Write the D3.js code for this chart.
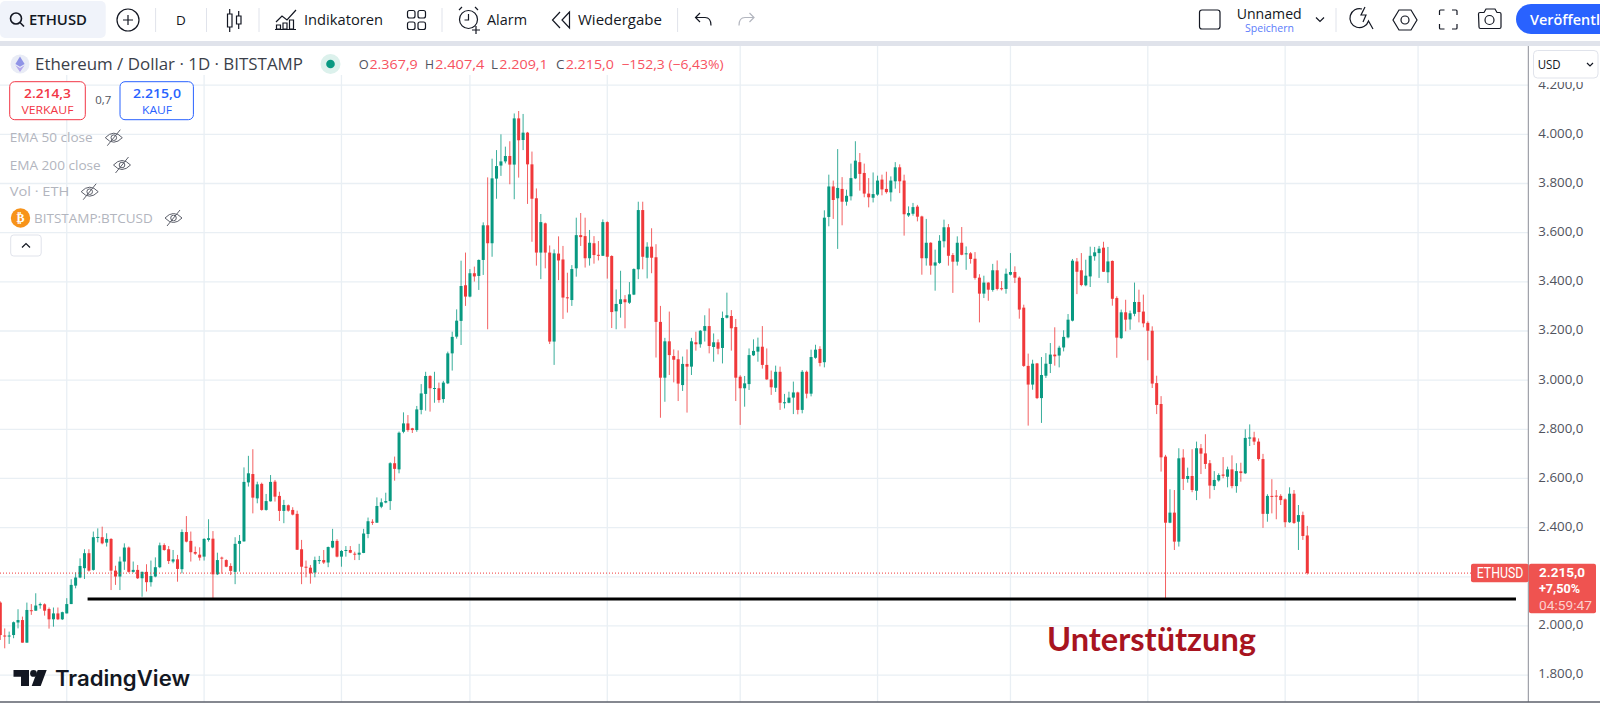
<!DOCTYPE html>
<html lang="de">
<head>
<meta charset="UTF-8">
<title>ETHUSD</title>
<style>
  body { margin: 0; background: #fff; overflow: hidden; }
  svg { display: block; font-family: "Open Sans", sans-serif; }
  .icon { fill: none; stroke: #131722; stroke-width: 1.2; }
</style>
</head>
<body>
<div id="chart"></div>
<script src="https://d3js.org/d3.v7.min.js"></script>
<script>
// values, one entry per daily candle
const opens = [
  2095,1961,1959,1963,2014,2024,1932,2064,2062,2084,
  2088,2069,2027,2051,2027,2051,2089,2164,2197,2235,
  2296,2228,2360,2361,2339,2354,2225,2201,2262,2319,
  2220,2228,2194,2220,2178,2201,2239,2329,2312,2262,
  2271,2231,2382,2346,2301,2290,2282,2350,2355,2210,
  2278,2268,2244,2220,2334,2344,2584,2618,2519,2578,
  2472,2507,2587,2529,2468,2491,2472,2456,2312,2241,
  2237,2217,2266,2268,2258,2319,2346,2282,2305,2309,
  2294,2290,2297,2374,2424,2420,2485,2502,2508,2662,
  2637,2790,2824,2804,2797,2879,2944,3017,2966,2967,
  2923,2987,3109,3177,3241,3386,3340,3435,3424,3489,
  3630,3557,3820,3873,3890,3912,3877,4065,3977,4007,
  3878,3740,3519,3638,3519,3157,3515,3491,3337,3326,
  3455,3590,3586,3496,3557,3510,3506,3643,3505,3280,
  3310,3329,3315,3348,3451,3692,3498,3543,3500,3237,
  3010,3158,3098,3085,2980,3066,3055,3154,3146,3201,
  3220,3135,3154,3131,3254,3261,3216,3014,2967,2984,
  3101,3116,3136,3062,3003,2969,3034,2908,2908,2929,
  2950,2879,3034,2945,3091,3127,3073,3664,3788,3740,
  3778,3726,3748,3821,3887,3843,3759,3742,3755,3816,
  3778,3764,3809,3866,3812,3670,3677,3706,3666,3496,
  3559,3466,3477,3565,3622,3509,3482,3559,3512,3516,
  3494,3417,3352,3397,3367,3447,3374,3371,3429,3440,
  3417,3295,3058,2982,3068,2927,3018,3066,3104,3100,
  3133,3174,3242,3483,3447,3386,3422,3504,3517,3539,
  3439,3485,3334,3171,3276,3247,3270,3318,3279,3233,
  3201,2988,2903,2689,2420,2461,2343,2685,2598,2610,
  2550,2723,2702,2662,2569,2592,2616,2607,2637,2569,
  2629,2621,2762,2767,2750,2679,2456,2529,2530,2529,
  2515,2422,2538,2424,2451,2368
];
const highs = [
  2100,1990,1977,2018,2068,2038,2095,2089,2133,2095,
  2092,2075,2075,2075,2058,2113,2190,2218,2275,2312,
  2312,2384,2397,2404,2377,2357,2245,2282,2336,2323,
  2262,2248,2221,2251,2266,2279,2339,2336,2325,2309,
  2289,2393,2447,2384,2323,2320,2357,2434,2386,2298,
  2282,2271,2255,2361,2370,2645,2692,2719,2587,2583,
  2537,2614,2594,2546,2513,2494,2483,2469,2350,2266,
  2248,2282,2285,2309,2323,2395,2353,2309,2325,2325,
  2302,2334,2395,2441,2434,2523,2519,2542,2666,2689,
  2791,2869,2858,2806,2895,2984,3034,3020,3034,2990,
  2997,3116,3197,3288,3486,3519,3452,3462,3491,3642,
  3825,3901,3936,4000,3950,3972,4085,4095,4083,4010,
  3930,3780,3676,3641,3548,3532,3585,3546,3437,3468,
  3661,3680,3661,3611,3586,3566,3654,3646,3508,3369,
  3445,3346,3399,3455,3726,3726,3561,3618,3553,3302,
  3172,3279,3125,3121,3096,3125,3172,3197,3204,3264,
  3292,3190,3166,3279,3356,3285,3249,3020,3017,3129,
  3166,3173,3220,3129,3039,3059,3055,2944,2953,2994,
  2953,3041,3039,3124,3144,3138,3691,3836,3812,3940,
  3826,3775,3881,3972,3924,3881,3822,3845,3832,3836,
  3848,3829,3887,3878,3836,3707,3721,3713,3669,3656,
  3561,3531,3590,3653,3635,3517,3585,3623,3544,3521,
  3521,3431,3425,3398,3473,3487,3403,3454,3517,3463,
  3422,3307,3108,3083,3070,3094,3110,3151,3215,3140,
  3203,3269,3493,3497,3517,3490,3543,3542,3546,3563,
  3542,3487,3341,3287,3327,3283,3397,3368,3348,3239,
  3219,3018,2935,2696,2556,2553,2723,2719,2644,2719,
  2750,2740,2780,2675,2630,2621,2687,2648,2694,2662,
  2664,2800,2820,2790,2763,2700,2536,2597,2553,2536,
  2519,2564,2553,2492,2465,2407
];
const lows = [
  1943,1909,1927,1950,1990,1932,1932,2045,2062,2070,
  2042,1989,1997,2024,2024,2051,2089,2153,2194,2191,
  2221,2225,2340,2332,2323,2146,2167,2146,2228,2217,
  2217,2191,2119,2140,2160,2198,2235,2306,2252,2255,
  2180,2214,2340,2262,2289,2266,2266,2343,2106,2207,
  2212,2239,2207,2170,2221,2343,2567,2458,2499,2469,
  2469,2506,2506,2427,2418,2465,2450,2309,2170,2198,
  2172,2198,2252,2252,2239,2316,2279,2241,2282,2296,
  2268,2268,2296,2357,2411,2420,2479,2499,2472,2591,
  2621,2784,2790,2785,2790,2861,2876,2872,2908,2908,
  2908,2984,3039,3169,3143,3302,3337,3401,3367,3428,
  3207,3502,3738,3831,3882,3797,3736,3824,3936,3717,
  3563,3466,3411,3455,3147,3062,3407,3249,3275,3302,
  3421,3546,3458,3466,3474,3487,3505,3413,3212,3207,
  3254,3211,3310,3346,3411,3451,3414,3435,3092,2847,
  2912,3021,2991,2915,2956,2868,3021,3120,3132,3157,
  3109,3075,3105,3068,3251,3120,2915,2818,2892,2960,
  3098,3075,3047,3001,2940,2952,2879,2885,2906,2862,
  2861,2865,2926,2934,3087,3056,3052,3626,3656,3534,
  3630,3710,3731,3818,3771,3744,3703,3723,3750,3752,
  3759,3727,3779,3761,3588,3664,3669,3646,3429,3466,
  3429,3364,3473,3540,3466,3355,3466,3508,3449,3474,
  3409,3235,3334,3323,3360,3365,3365,3352,3426,3395,
  3250,3054,2815,2961,2923,2826,3009,3029,3059,3052,
  3117,3170,3239,3350,3382,3382,3379,3486,3416,3440,
  3395,3303,3091,3167,3199,3205,3260,3235,3215,3081,
  2968,2862,2628,2112,2418,2309,2323,2553,2583,2544,
  2512,2618,2639,2518,2553,2587,2601,2564,2560,2542,
  2587,2618,2732,2736,2672,2399,2424,2458,2434,2492,
  2401,2419,2415,2309,2350,2209
];
const closes = [
  1963,1958,1961,2015,2024,1932,2065,2062,2083,2089,
  2062,2027,2051,2027,2056,2089,2167,2197,2244,2296,
  2225,2361,2362,2336,2354,2225,2201,2262,2319,2220,
  2228,2194,2220,2178,2203,2239,2328,2309,2264,2271,
  2232,2382,2343,2300,2294,2278,2354,2357,2210,2268,
  2274,2241,2224,2334,2346,2586,2621,2522,2576,2472,
  2508,2586,2526,2468,2492,2469,2453,2310,2241,2237,
  2214,2268,2268,2258,2321,2346,2282,2305,2309,2298,
  2290,2298,2376,2426,2420,2488,2503,2508,2662,2639,
  2786,2824,2797,2797,2881,2946,3017,2967,2968,2919,
  2990,3109,3176,3242,3383,3340,3435,3422,3489,3630,
  3557,3821,3871,3890,3912,3877,4065,3976,4007,3878,
  3738,3519,3643,3519,3157,3516,3487,3336,3334,3452,
  3590,3582,3496,3559,3509,3506,3643,3502,3277,3310,
  3329,3317,3349,3452,3692,3502,3543,3498,3237,3010,
  3158,3102,3083,2986,3066,3055,3158,3146,3201,3220,
  3139,3154,3128,3253,3264,3211,3010,2967,2987,3102,
  3119,3136,3062,3003,2971,3034,2908,2910,2929,2950,
  2879,3034,2945,3094,3124,3070,3661,3788,3733,3782,
  3726,3750,3822,3893,3839,3759,3744,3757,3812,3776,
  3765,3812,3866,3809,3675,3680,3704,3665,3496,3559,
  3466,3479,3567,3622,3506,3482,3559,3510,3516,3493,
  3416,3352,3397,3368,3447,3371,3370,3433,3440,3417,
  3287,3058,2982,3067,2927,3021,3067,3104,3097,3132,
  3176,3246,3486,3441,3387,3425,3506,3520,3535,3441,
  3483,3331,3173,3276,3246,3272,3318,3277,3231,3201,
  2986,2899,2686,2420,2461,2343,2682,2598,2610,2553,
  2723,2701,2659,2571,2594,2614,2611,2637,2569,2630,
  2622,2765,2767,2750,2679,2456,2529,2526,2526,2512,
  2422,2538,2419,2451,2366,2215
];
const gridPrices = [1800, 2000, 2200, 2400, 2600, 2800, 3000, 3200, 3400, 3600, 3800, 4000, 4200];
const priceLabels = [1800, 2000, 2400, 2600, 2800, 3000, 3200, 3400, 3600, 3800, 4000, 4200]; // 2.200 sits under the price tag
const monthStarts = [15, 46, 77, 106, 137, 167, 198, 228, 259, 290, 320];
const lastPrice = 2215;
const supportLevel = 2110;
const supportSpan = [19.7, 342.1];

const width = 1600, height = 703;
const axisX = 1528.3;
const chartTop = 46, chartBottom = 702;
const green = '#089981', red = '#f0383a', tagRed = '#ef5350', btnRed = '#f23645';

const x = d3.scaleLinear().domain([0, opens.length - 1]).range([0.3, 1307.3]);
const y = d3.scaleLinear().domain([1800, 4200]).range([675.1, 85.2]);

const svg = d3.select('#chart').append('svg').attr('width', width).attr('height', height);

// helper for all the interface text, len squeezes it to the measured width
function label(parent, px, py, str, o = {}) {
  const t = parent.append('text')
    .attr('x', px).attr('y', py).attr('dy', '0.35em')
    .attr('font-size', o.size || 14)
    .attr('font-weight', o.weight || 400)
    .attr('fill', o.fill || '#131722')
    .attr('text-anchor', o.anchor || 'start')
    .text(str);
  if (o.family) t.attr('font-family', o.family);
  if (o.len) t.attr('textLength', o.len).attr('lengthAdjust', 'spacingAndGlyphs');
  return t;
}

// grid
const grid = svg.append('g').attr('stroke', '#e9eff4').attr('stroke-width', 1.3);
grid.selectAll('.h').data(gridPrices).enter().append('line')
  .attr('x1', 0).attr('x2', axisX).attr('y1', d => y(d)).attr('y2', d => y(d));
grid.selectAll('.v').data(monthStarts).enter().append('line')
  .attr('y1', chartTop).attr('y2', chartBottom).attr('x1', d => x(d)).attr('x2', d => x(d));

// candles
const candles = svg.append('g').selectAll('g').data(opens).enter().append('g')
  .attr('fill', (d, i) => closes[i] >= d ? green : red)
  .attr('stroke', (d, i) => closes[i] >= d ? green : red);
candles.append('line')
  .attr('stroke-width', 0.8)
  .attr('x1', (d, i) => x(i)).attr('x2', (d, i) => x(i))
  .attr('y1', (d, i) => y(highs[i])).attr('y2', (d, i) => y(lows[i]));
candles.append('rect')
  .attr('stroke', 'none')
  .attr('x', (d, i) => x(i) - 1.5).attr('width', 3)
  .attr('y', (d, i) => y(Math.max(d, closes[i])))
  .attr('height', (d, i) => Math.max(1, Math.abs(y(d) - y(closes[i]))));

// last price line
svg.append('line').attr('x1', 0).attr('x2', axisX).attr('y1', y(lastPrice)).attr('y2', y(lastPrice))
  .attr('stroke', red).attr('stroke-width', 1).attr('stroke-dasharray', '1 2');

// support line and note
svg.append('line')
  .attr('x1', x(supportSpan[0])).attr('x2', x(supportSpan[1]))
  .attr('y1', y(supportLevel)).attr('y2', y(supportLevel))
  .attr('stroke', '#000').attr('stroke-width', 3);
svg.append('text').attr('x', 1047).attr('y', 651)
  .attr('font-family', 'Lato, sans-serif').attr('font-weight', 700).attr('font-size', 32)
  .attr('fill', '#a8141f').attr('textLength', 209).attr('lengthAdjust', 'spacingAndGlyphs')
  .text('Unterstützung');

// price axis
const de = d3.formatLocale({ decimal: ',', thousands: '.', grouping: [3], currency: ['', '$'] });
const fmt = de.format(',.1f');
const axisPanel = svg.append('g');
axisPanel.append('rect').attr('x', axisX).attr('y', chartTop).attr('width', width - axisX).attr('height', chartBottom - chartTop).attr('fill', '#fff');
const axis = axisPanel.append('g').attr('transform', `translate(${axisX},-1.3)`)
  .call(d3.axisRight(y).tickValues(priceLabels).tickSize(0).tickPadding(10).tickFormat(fmt));
axis.select('.domain').remove();
axis.selectAll('text').attr('font-family', '"Open Sans", sans-serif').attr('font-size', 13).attr('fill', '#50535e')
  .attr('textLength', 45).attr('lengthAdjust', 'spacingAndGlyphs');
// the currency box sits on top of the 4.200 label
axisPanel.append('rect').attr('x', axisX).attr('y', chartTop).attr('width', width - axisX).attr('height', 36).attr('fill', '#fff');
axisPanel.append('line').attr('x1', axisX).attr('x2', axisX).attr('y1', chartTop).attr('y2', chartBottom).attr('stroke', '#8a8d96');
axisPanel.append('rect').attr('x', 1533.5).attr('y', 50.5).attr('width', 64.5).attr('height', 27.5).attr('rx', 4)
  .attr('fill', '#fff').attr('stroke', '#e0e3eb');
label(axisPanel, 1537.7, 64.5, 'USD', { size: 12.5, len: 23 });
axisPanel.append('path').attr('class', 'icon').attr('d', 'M1587 63l3 3 3-3');

// price tags
const tagFont = 'Roboto, sans-serif';
const tagY = y(lastPrice) - 9.3;
svg.append('rect').attr('x', 1471).attr('y', tagY).attr('width', 57.5).attr('height', 18.5).attr('rx', 2).attr('fill', tagRed);
label(svg, 1476.7, tagY + 9.5, 'ETHUSD', { size: 14, fill: '#fff', len: 46.6, family: tagFont });
svg.append('rect').attr('x', 1529).attr('y', tagY).attr('width', 67).attr('height', 49.5).attr('rx', 2).attr('fill', tagRed);
label(svg, 1539, tagY + 8.3, fmt(lastPrice), { size: 13.5, weight: 700, fill: '#fff', len: 46, family: tagFont });
label(svg, 1539, tagY + 24.7, '+7,50%', { size: 13.5, weight: 700, fill: '#fff', len: 41, family: tagFont });
label(svg, 1539, tagY + 41, '04:59:47', { size: 13.5, fill: '#fbd0ce', len: 53, family: tagFont });

// chart bottom edge
svg.append('line').attr('x1', 0).attr('x2', width).attr('y1', 702).attr('y2', 702).attr('stroke', '#5d606b').attr('stroke-width', 1.5);

// legend
const legend = svg.append('g');
legend.append('rect').attr('x', 0).attr('y', chartTop).attr('width', 730).attr('height', 29).attr('fill', '#fff');
legend.append('circle').attr('cx', 20).attr('cy', 64).attr('r', 9.5).attr('fill', '#e9ecf6');
legend.append('path').attr('d', 'M20 56.5l4.6 7.5-4.6 2.8-4.6-2.8z').attr('fill', '#8f93e6');
legend.append('path').attr('d', 'M20 68l4.6-2.8-4.6 6.8-4.6-6.8z').attr('fill', '#b4a8ec');
label(legend, 35, 65, 'Ethereum / Dollar · 1D · BITSTAMP', { size: 15.5, fill: '#3b3f4a', len: 268 });
legend.append('circle').attr('cx', 330.5).attr('cy', 64).attr('r', 10).attr('fill', '#dcf1ec');
legend.append('circle').attr('cx', 330.5).attr('cy', 64).attr('r', 4.3).attr('fill', green);

const ohlcRed = '#f7525f', ohlcGrey = '#50535e';
label(legend, 358.7, 64.5, 'O', { size: 13, fill: ohlcGrey, len: 10 });
label(legend, 369.4, 64.5, '2.367,9', { size: 13, fill: ohlcRed, len: 48.4 });
label(legend, 425, 64.5, 'H', { size: 13, fill: ohlcGrey, len: 9 });
label(legend, 435, 64.5, '2.407,4', { size: 13, fill: ohlcRed, len: 49.4 });
label(legend, 491, 64.5, 'L', { size: 13, fill: ohlcGrey, len: 7 });
label(legend, 499.3, 64.5, '2.209,1', { size: 13, fill: ohlcRed, len: 48.5 });
label(legend, 556, 64.5, 'C', { size: 13, fill: ohlcGrey, len: 8.5 });
label(legend, 565.7, 64.5, '2.215,0', { size: 13, fill: ohlcRed, len: 48.3 });
label(legend, 621.4, 64.5, '−152,3 (−6,43%)', { size: 13, fill: ohlcRed, len: 102.3 });

legend.append('rect').attr('x', 9.7).attr('y', 81.7).attr('width', 75.6).attr('height', 38).attr('rx', 5)
  .attr('fill', '#fff').attr('stroke', btnRed);
label(legend, 47.5, 94, '2.214,3', { size: 12.5, weight: 600, fill: btnRed, anchor: 'middle', len: 47 });
label(legend, 47.5, 110, 'VERKAUF', { size: 11, fill: btnRed, anchor: 'middle', len: 52 });
label(legend, 103.2, 100, '0,7', { size: 11, fill: '#50535e', anchor: 'middle', len: 16 });
legend.append('rect').attr('x', 120).attr('y', 81.7).attr('width', 73.4).attr('height', 38).attr('rx', 5)
  .attr('fill', '#fff').attr('stroke', '#2962ff');
label(legend, 157, 94, '2.215,0', { size: 12.5, weight: 600, fill: '#2962ff', anchor: 'middle', len: 48 });
label(legend, 157, 110, 'KAUF', { size: 11, fill: '#2962ff', anchor: 'middle', len: 30 });

function eyeOff(parent, cx, cy) {
  const g = parent.append('g').attr('class', 'icon').attr('transform', `translate(${cx},${cy})`)
    .style('stroke', '#5d606b').style('stroke-width', 1);
  g.append('path').attr('d', 'M-8.5 0Q0 -9 8.5 0Q0 9 -8.5 0Z');
  g.append('circle').attr('r', 2.8);
  g.append('line').attr('x1', -6.5).attr('y1', 8).attr('x2', 6.5).attr('y2', -8);
}
const muted = '#b2b5be';
label(legend, 9.7, 137.7, 'EMA 50 close', { size: 13.5, fill: muted, len: 83 });
eyeOff(legend, 113.8, 137.7);
label(legend, 9.7, 165, 'EMA 200 close', { size: 13.5, fill: muted, len: 91 });
eyeOff(legend, 122, 165);
label(legend, 9.7, 191.7, 'Vol · ETH', { size: 13.5, fill: muted, len: 59.6 });
eyeOff(legend, 89.7, 191.7);
legend.append('circle').attr('cx', 20.5).attr('cy', 218).attr('r', 9.7).attr('fill', '#f7931a');
label(legend, 20.5, 218, '₿', { size: 12, weight: 700, fill: '#fff', anchor: 'middle', family: 'DejaVu Sans' });
label(legend, 34, 218, 'BITSTAMP:BTCUSD', { size: 13.5, fill: muted, len: 118.7 });
eyeOff(legend, 173.5, 218);
legend.append('rect').attr('x', 10.7).attr('y', 235).attr('width', 30.5).attr('height', 21).attr('rx', 3)
  .attr('fill', '#fff').attr('stroke', '#e0e3eb');
legend.append('path').attr('class', 'icon').attr('d', 'M22 247.5l4-4 4 4');

// TradingView mark
const logo = svg.append('g').attr('fill', '#131722');
logo.append('path').attr('d', 'M13.5 670H29V686H21V676.7H13.5Z');
logo.append('circle').attr('cx', 33.5).attr('cy', 673.4).attr('r', 3.4);
logo.append('path').attr('d', 'M37.7 670H46.7L40.7 686H31.7Z');
logo.append('text').attr('x', 55).attr('y', 686).attr('font-family', 'Inter, sans-serif').attr('font-weight', 600)
  .attr('font-size', 21).attr('textLength', 135).attr('lengthAdjust', 'spacingAndGlyphs').text('TradingView');

// toolbar
const bar = svg.append('g');
bar.append('rect').attr('x', 0).attr('y', 0).attr('width', width).attr('height', 41).attr('fill', '#fff');
bar.append('rect').attr('x', 0).attr('y', 41).attr('width', width).attr('height', 5).attr('fill', '#e0e3eb');
bar.append('rect').attr('x', 0).attr('y', 1).attr('width', 105.7).attr('height', 37).attr('rx', 5).attr('fill', '#f0f3fa');
[155.6, 206.5, 259, 442, 677.6, 1336].forEach(sx => {
  bar.append('line').attr('x1', sx).attr('x2', sx).attr('y1', 8).attr('y2', 32).attr('stroke', '#e0e3eb');
});

const icons = bar.append('g').attr('class', 'icon');
// search
icons.append('circle').attr('cx', 16).attr('cy', 18.5).attr('r', 5.5).attr('stroke-width', 1.6);
icons.append('path').attr('d', 'M20 22.5l4 4').attr('stroke-width', 1.6);
// add
icons.append('circle').attr('cx', 128).attr('cy', 20).attr('r', 11);
icons.append('path').attr('d', 'M128 15v10M123 20h10');
// candle type
icons.append('path').attr('d', 'M227.5 14h4.5v13h-4.5zM229.7 9v5M229.7 27v5M236.5 16h4.5v8h-4.5zM238.7 11v5M238.7 24v5');
// indicators
icons.append('path').attr('d', 'M276 22l6-6 5 4 9-10');
icons.append('path').attr('d', 'M276.5 29v-4h4v4zM283 29v-6h4v6zM289.5 29v-9h4v9zM275 29.5h21');
// layouts
[[407.5, 10.5], [418, 10.5], [407.5, 22], [418, 22]].forEach(p => {
  icons.append('rect').attr('x', p[0]).attr('y', p[1]).attr('width', 7.5).attr('height', 7.5).attr('rx', 2);
});
// alarm
icons.append('circle').attr('cx', 468.5).attr('cy', 19.5).attr('r', 9);
icons.append('path').attr('d', 'M468.5 14v6h-4M459 10l3-3M478 10l-3-3M472 30h8M476 26v8');
// replay
icons.append('path').attr('d', 'M560 12l-7.5 8 7.5 8M569.5 12l-7.5 8 7.5 8z');
// undo, redo
icons.append('path').attr('d', 'M700 13l-4.5 4.5 4.5 4.5M696 17.5h9q6 0 6 8');
icons.append('path').attr('d', 'M749.5 13l4.5 4.5-4.5 4.5M754 17.5h-9q-6 0-6 8').style('stroke', '#b2b5be');
// right side
icons.append('rect').attr('x', 1199.5).attr('y', 10).attr('width', 20.5).attr('height', 19).attr('rx', 2.5);
icons.append('path').attr('d', 'M1316 17.5l4 4 4-4');
icons.append('path').attr('d', 'M1362 9a9.5 9.5 0 1 0 6.5 12l4.5 8M1365 7l-4 8h5l-3 7');
icons.append('path').attr('d', 'M1399 10h12l6 10-6 10h-12l-6-10z');
icons.append('circle').attr('cx', 1405).attr('cy', 20).attr('r', 4);
icons.append('path').attr('d', 'M1439.5 15v-4q0-1 1-1h4M1452 10h4q1 0 1 1v4M1457 24v4q0 1-1 1h-4M1444.5 29h-4q-1 0-1-1v-4');
icons.append('path').attr('d', 'M1478.5 14q0-1.5 1.5-1.5h4l2-3.5h9l2 3.5h2.5q1.5 0 1.5 1.5v13q0 1.5-1.5 1.5h-19q-1.5 0-1.5-1.5z');
icons.append('circle').attr('cx', 1489.5).attr('cy', 20).attr('r', 4.5);

label(bar, 29, 20, 'ETHUSD', { size: 14.5, weight: 600, len: 58 });
label(bar, 181, 20, 'D', { size: 13.5, anchor: 'middle' });
label(bar, 304, 20, 'Indikatoren', { size: 14.5, len: 79 });
label(bar, 487, 20, 'Alarm', { size: 14.5, len: 40 });
label(bar, 578, 20, 'Wiedergabe', { size: 14.5, len: 84 });
label(bar, 1236.7, 14, 'Unnamed', { size: 14, len: 65 });
label(bar, 1245, 28, 'Speichern', { size: 11.5, fill: '#5b7cfa', len: 49 });

bar.append('rect').attr('x', 1516).attr('y', 4).attr('width', 110).attr('height', 30).attr('rx', 15).attr('fill', '#2962ff');
label(bar, 1530, 20, 'Veröffentl', { size: 14.5, weight: 600, fill: '#fff', len: 70 });
</script>
</body>
</html>
